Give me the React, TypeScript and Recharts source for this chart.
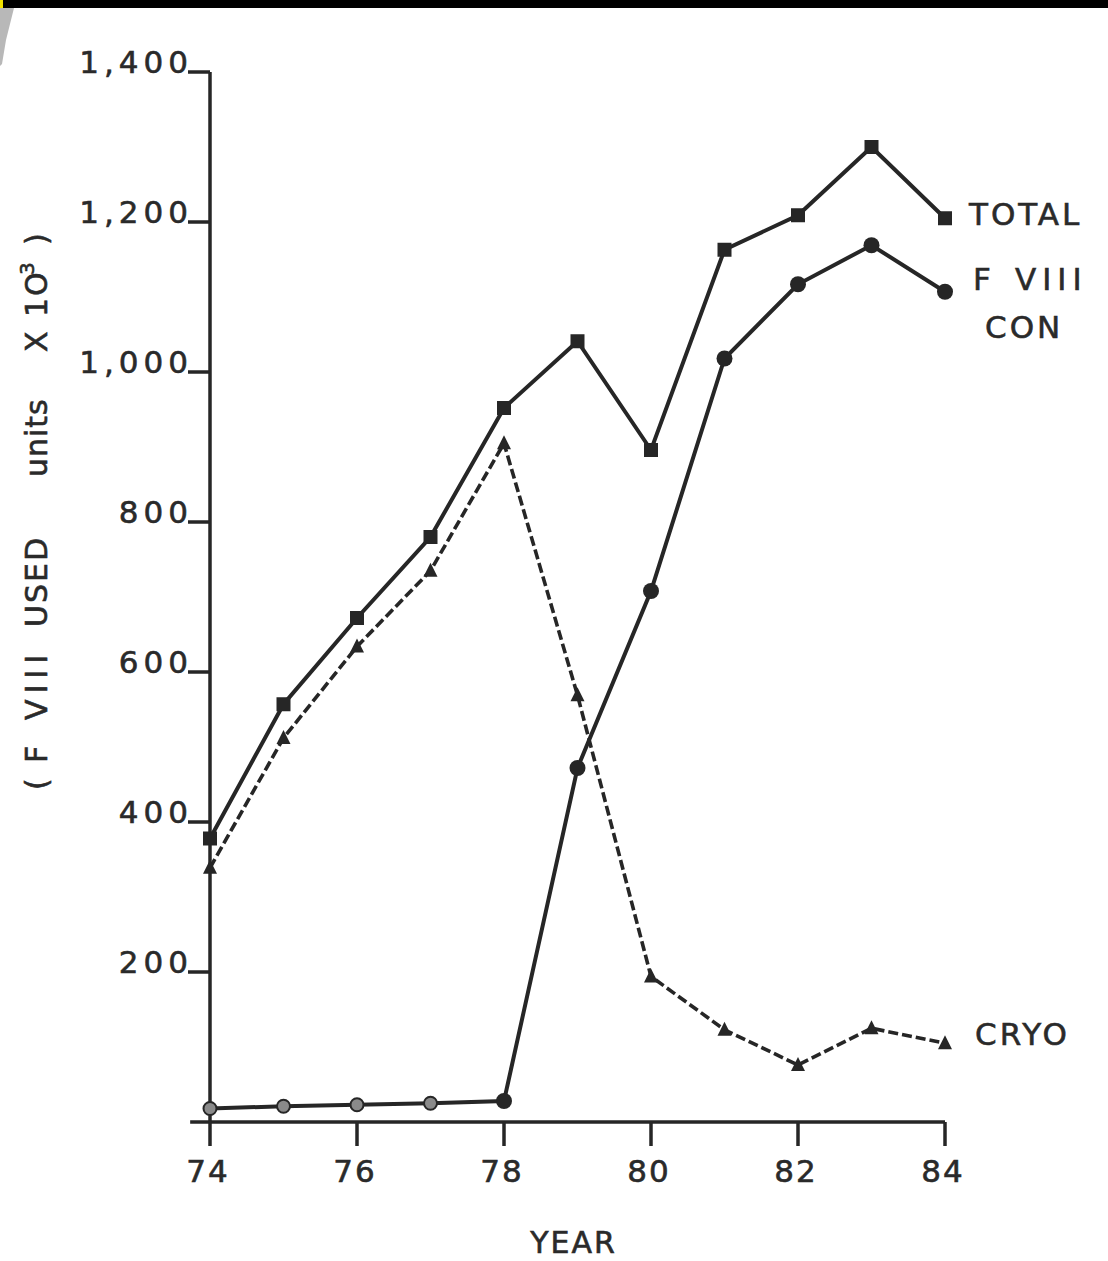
import React from 'react';
import { LineChart, Line, XAxis, YAxis, ReferenceLine } from 'recharts';

const years = [74, 75, 76, 77, 78, 79, 80, 81, 82, 83, 84];
const totalValues = [378, 557, 672, 780, 952, 1041, 896, 1163, 1209, 1300, 1205];
const concentrateValues = [18, 21, 23, 25, 28, 472, 708, 1018, 1117, 1169, 1107];
const cryoValues = [339, 512, 634, 735, 905, 569, 194, 123, 76, 125, 105];
const yTicks = [200, 400, 600, 800, 1000, 1200, 1400];
const xTicks = [74, 76, 78, 80, 82, 84];

const data = years.map((year, i) => ({
  year,
  total: totalValues[i],
  con: concentrateValues[i],
  cryo: cryoValues[i],
}));

const INK = '#262626';
const TEXT = '#2a2a2a';
const FONT = '"DejaVu Sans", sans-serif';
const LAST = years.length - 1;

const SquareDot = (p: any) => {
  if (p.cx == null || p.cy == null) return <g key={p.key} />;
  return <rect key={p.key} x={p.cx - 7} y={p.cy - 7} width={14} height={14} fill={INK} />;
};

const CircleDot = (p: any) => {
  if (p.cx == null || p.cy == null) return <g key={p.key} />;
  if (p.index < 4) {
    return <circle key={p.key} cx={p.cx} cy={p.cy} r={6.5} fill="#8a8a8a" stroke={INK} strokeWidth={2} />;
  }
  return <circle key={p.key} cx={p.cx} cy={p.cy} r={8} fill={INK} />;
};

const TriangleDot = (p: any) => {
  if (p.cx == null || p.cy == null) return <g key={p.key} />;
  const s = 7;
  return (
    <polygon
      key={p.key}
      points={`${p.cx},${p.cy - s - 1} ${p.cx - s},${p.cy + s - 1} ${p.cx + s},${p.cy + s - 1}`}
      fill={INK}
    />
  );
};

const textStyle = { fontFamily: FONT, fontSize: 31, fill: TEXT, stroke: TEXT, strokeWidth: 0.6 } as const;

const TotalLabel = (p: any) => {
  if (p.index !== LAST) return <g />;
  return (
    <text x={p.x + 24} y={p.y + 7} {...textStyle} letterSpacing={3}>
      TOTAL
    </text>
  );
};

const ConLabel = (p: any) => {
  if (p.index !== LAST) return <g />;
  return (
    <text {...textStyle} letterSpacing={3}>
      <tspan x={p.x + 28} y={p.y - 2}>F</tspan>
      <tspan x={p.x + 70} y={p.y - 2} letterSpacing={6}>VIII</tspan>
      <tspan x={p.x + 40} y={p.y + 46}>CON</tspan>
    </text>
  );
};

const CryoLabel = (p: any) => {
  if (p.index !== LAST) return <g />;
  return (
    <text x={p.x + 30} y={p.y + 2} {...textStyle} letterSpacing={3}>
      CRYO
    </text>
  );
};

const YTick = (p: any) => {
  const v = p.payload.value;
  const label = v >= 1000 ? `${Math.floor(v / 1000)},${String(v % 1000).padStart(3, '0')}` : String(v);
  return (
    <text x={p.x + 7} y={p.y + 1} textAnchor="end" {...textStyle} letterSpacing={5}>
      {label}
    </text>
  );
};

const XTick = (p: any) => (
  <text x={p.x - 2} y={p.y + 34} textAnchor="middle" {...textStyle} letterSpacing={2}>
    {p.payload.value}
  </text>
);

const YLabel = (p: any) => {
  const vb = p.viewBox || { x: 0, y: 0, width: 210, height: 1050 };
  const bx = vb.x + 47;
  const by = vb.y + 718;
  return (
    <text
      transform={`translate(${bx},${by}) rotate(-90)`}
      fontFamily={FONT}
      fontSize={30}
      fill={TEXT}
      stroke={TEXT}
      strokeWidth={0.6}
      letterSpacing={2}
    >
      <tspan x={0} y={0}>(</tspan>
      <tspan x={27} y={0}>F</tspan>
      <tspan x={70} y={0} letterSpacing={6}>VIII</tspan>
      <tspan x={163} y={0}>USED</tspan>
      <tspan x={313} y={0} letterSpacing={1}>units</tspan>
      <tspan x={438} y={0}>X</tspan>
      <tspan x={473} y={0}>1O</tspan>
      <tspan x={515} y={-13} fontSize={20}>3</tspan>
      <tspan x={545} y={0}>)</tspan>
    </text>
  );
};

const XLabel = (p: any) => {
  const vb = p.viewBox || { x: 210, y: 1122, width: 735, height: 139 };
  return (
    <text x={vb.x + vb.width / 2 - 4} y={vb.y + 131} textAnchor="middle" {...textStyle} fontSize={30} letterSpacing={2}>
      YEAR
    </text>
  );
};

export default function App() {
  return (
    <div style={{ position: 'absolute', left: 0, top: 0, width: 1108, height: 1261, background: '#ffffff', overflow: 'hidden' }}>
      <div style={{ position: 'absolute', left: 0, top: 0, width: 1108, height: 8, background: '#000' }} />
      <div style={{ position: 'absolute', left: 0, top: 0, width: 3, height: 8, background: '#f2e200' }} />
      <svg style={{ position: 'absolute', left: 0, top: 0 }} width={40} height={120}>
        <polygon points="0,8 14,8 6,40 2,64 0,66" fill="#b8b8b8" />
      </svg>
      <LineChart
        width={1108}
        height={1261}
        data={data}
        margin={{ top: 72, right: 163, bottom: 0, left: 0 }}
      >
        <XAxis
          dataKey="year"
          type="number"
          domain={[74, 84]}
          ticks={xTicks}
          height={139}
          axisLine={{ stroke: INK, strokeWidth: 3.5 }}
          tickLine={{ stroke: INK, strokeWidth: 3.5 }}
          tickSize={24}
          tick={<XTick />}
          label={<XLabel />}
        />
        <YAxis
          type="number"
          domain={[0, 1400]}
          ticks={yTicks}
          width={210}
          axisLine={{ stroke: INK, strokeWidth: 3.5 }}
          tickLine={{ stroke: INK, strokeWidth: 3.5 }}
          tickSize={22}
          tick={<YTick />}
          label={<YLabel />}
        />
        <ReferenceLine
          segment={[{ x: 73.73, y: 0 }, { x: 74, y: 0 }]}
          ifOverflow="visible"
          stroke={INK}
          strokeWidth={3.5}
        />
        <Line
          dataKey="total"
          stroke={INK}
          strokeWidth={4}
          dot={SquareDot}
          activeDot={false}
          isAnimationActive={false}
          label={TotalLabel}
        />
        <Line
          dataKey="con"
          stroke={INK}
          strokeWidth={4}
          dot={CircleDot}
          activeDot={false}
          isAnimationActive={false}
          label={ConLabel}
        />
        <Line
          dataKey="cryo"
          stroke={INK}
          strokeWidth={3.6}
          strokeDasharray="10 4"
          dot={TriangleDot}
          activeDot={false}
          isAnimationActive={false}
          label={CryoLabel}
        />
      </LineChart>
    </div>
  );
}
